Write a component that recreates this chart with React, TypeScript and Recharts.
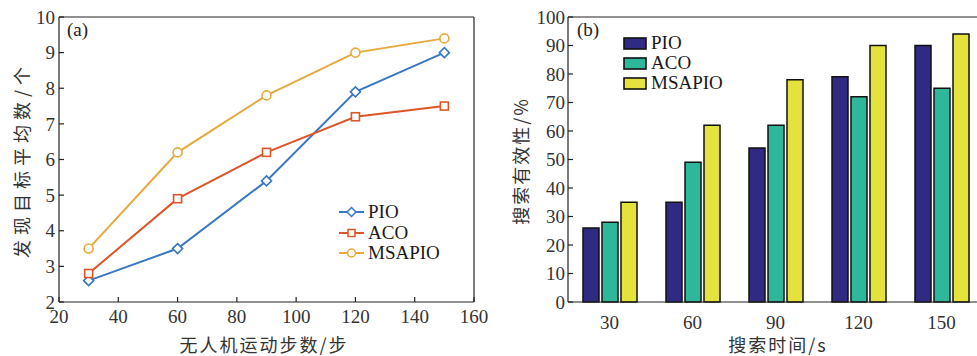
import React from 'react';
import { LineChart, Line, XAxis, YAxis, BarChart, Bar, ReferenceLine, Legend } from 'recharts';

// Panel (a)
const steps = [30, 60, 90, 120, 150];
const pioTargets = [2.6, 3.5, 5.4, 7.9, 9.0];
const acoTargets = [2.8, 4.9, 6.2, 7.2, 7.5];
const msapioTargets = [3.5, 6.2, 7.8, 9.0, 9.4];
const xTicksA = [20, 40, 60, 80, 100, 120, 140, 160];
const yTicksA = [2, 3, 4, 5, 6, 7, 8, 9, 10];

// Panel (b)
const times = ['30', '60', '90', '120', '150'];
const pioEff = [26, 35, 54, 79, 90];
const acoEff = [28, 49, 62, 72, 75];
const msapioEff = [35, 62, 78, 90, 94];
const yTicksB = [0, 10, 20, 30, 40, 50, 60, 70, 80, 90, 100];

const dataA = steps.map((s, i) => ({ step: s, PIO: pioTargets[i], ACO: acoTargets[i], MSAPIO: msapioTargets[i] }));
const dataB = times.map((t, i) => ({ time: t, PIO: pioEff[i], ACO: acoEff[i], MSAPIO: msapioEff[i] }));

const C_PIO = '#3a78c4';
const C_ACO = '#dc5628';
const C_MS = '#e6a93c';
const B_PIO = '#302a82';
const B_ACO = '#2fb79b';
const B_MS = '#e4e33e';

const AX = '#222';
const SERIF = '"Liberation Serif", "Times New Roman", serif';
const CJK = '"Noto Sans CJK SC", sans-serif';
const tickStyle = { fontFamily: SERIF, fontSize: 19, fill: '#333' };

const diamondPath = (cx: number, cy: number, r: number) => `M${cx},${cy - r}L${cx + r},${cy}L${cx},${cy + r}L${cx - r},${cy}Z`;

const DiamondDot = (p: any) => (
  <path d={diamondPath(p.cx, p.cy, 5)} fill="#fff" stroke={C_PIO} strokeWidth={1.6} />
);
const SquareDot = (p: any) => (
  <rect x={p.cx - 4} y={p.cy - 4} width={8} height={8} fill="#fff" stroke={C_ACO} strokeWidth={1.6} />
);
const CircleDot = (p: any) => (
  <circle cx={p.cx} cy={p.cy} r={4.5} fill="#fff" stroke={C_MS} strokeWidth={1.6} />
);

const lineLegendItems = [
  { name: 'PIO', color: C_PIO, shape: 'diamond' },
  { name: 'ACO', color: C_ACO, shape: 'square' },
  { name: 'MSAPIO', color: C_MS, shape: 'circle' },
];
const barLegendItems = [
  { name: 'PIO', color: B_PIO },
  { name: 'ACO', color: B_ACO },
  { name: 'MSAPIO', color: B_MS },
];

const LineLegend = () => (
  <div style={{ display: 'flex', flexDirection: 'column' }}>
    {lineLegendItems.map((it) => (
      <div key={it.name} style={{ display: 'flex', alignItems: 'center', height: 20.5 }}>
        <svg width={26} height={14} style={{ display: 'block' }}>
          <line x1={0} y1={7} x2={25} y2={7} stroke={it.color} strokeWidth={2} />
          {it.shape === 'diamond' && <path d={diamondPath(12.5, 7, 4.5)} fill="#fff" stroke={it.color} strokeWidth={1.5} />}
          {it.shape === 'square' && <rect x={9} y={3.5} width={7} height={7} fill="#fff" stroke={it.color} strokeWidth={1.5} />}
          {it.shape === 'circle' && <circle cx={12.5} cy={7} r={4} fill="#fff" stroke={it.color} strokeWidth={1.5} />}
        </svg>
        <span style={{ fontFamily: SERIF, fontSize: 19, color: '#1a1a1a', marginLeft: 3, lineHeight: '20px' }}>{it.name}</span>
      </div>
    ))}
  </div>
);

const BarLegend = () => (
  <div style={{ display: 'flex', flexDirection: 'column' }}>
    {barLegendItems.map((it) => (
      <div key={it.name} style={{ display: 'flex', alignItems: 'center', height: 20 }}>
        <svg width={24} height={13} style={{ display: 'block' }}>
          <rect x={1} y={1} width={22} height={11} fill={it.color} stroke="#111" strokeWidth={1.6} />
        </svg>
        <span style={{ fontFamily: SERIF, fontSize: 19, color: '#1a1a1a', marginLeft: 4, lineHeight: '20px' }}>{it.name}</span>
      </div>
    ))}
  </div>
);

const labelBase = { position: 'absolute' as const, whiteSpace: 'nowrap' as const, fontFamily: CJK, fontSize: 18, lineHeight: '18px', color: '#333' };

export default function App() {
  return (
    <div style={{ position: 'fixed', left: 0, top: 0, width: 977, height: 356, overflow: 'hidden', background: '#fff' }}>
      {/* Panel (a) */}
      <div style={{ position: 'absolute', left: 0, top: 0 }}>
        <LineChart width={490} height={356} data={dataA} margin={{ top: 17, right: 16, bottom: 24, left: 19 }}>
          <XAxis
            dataKey="step"
            type="number"
            domain={[20, 160]}
            ticks={xTicksA}
            interval={0}
            tickSize={-5}
            tickMargin={13}
            height={30}
            stroke={AX}
            strokeWidth={1.2}
            tick={tickStyle}
          />
          <YAxis
            type="number"
            domain={[2, 10]}
            ticks={yTicksA}
            interval={0}
            tickSize={-5}
            tickMargin={9}
            width={40}
            stroke={AX}
            strokeWidth={1.2}
            tick={tickStyle}
          />
          <ReferenceLine y={10} stroke={AX} strokeWidth={1.2} />
          <ReferenceLine x={160} stroke={AX} strokeWidth={1.2} />
          <Line dataKey="PIO" stroke={C_PIO} strokeWidth={2} dot={(p: any) => <DiamondDot key={`pd${p.index}`} {...p} />} isAnimationActive={false} />
          <Line dataKey="ACO" stroke={C_ACO} strokeWidth={2} dot={(p: any) => <SquareDot key={`ad${p.index}`} {...p} />} isAnimationActive={false} />
          <Line dataKey="MSAPIO" stroke={C_MS} strokeWidth={2} dot={(p: any) => <CircleDot key={`md${p.index}`} {...p} />} isAnimationActive={false} />
          <Legend
            layout="horizontal"
            verticalAlign="middle"
            align="center"
            content={() => <LineLegend />}
            wrapperStyle={{ left: 339, top: 202, width: 130, height: 62, bottom: 'auto', right: 'auto' }}
          />
        </LineChart>
        <div style={{ position: 'absolute', left: 67, top: 19, fontFamily: SERIF, fontSize: 19, color: '#222' }}>(a)</div>
        <div style={{ ...labelBase, left: 21, top: 160, transform: 'translate(-50%, -50%) rotate(-90deg)', letterSpacing: 5 }}>发现目标平均数/个</div>
        <div style={{ ...labelBase, left: 264, top: 344, transform: 'translate(-50%, -50%)', letterSpacing: 2 }}>无人机运动步数/步</div>
      </div>

      {/* Panel (b) */}
      <div style={{ position: 'absolute', left: 490, top: 0 }}>
        <BarChart width={500} height={356} data={dataB} margin={{ top: 17, right: 7, bottom: 24, left: 38 }} barSize={16} barGap={3}>
          <XAxis
            dataKey="time"
            tickLine={false}
            tickMargin={8}
            height={30}
            stroke={AX}
            strokeWidth={1.2}
            tick={tickStyle}
            interval={0}
          />
          <YAxis
            type="number"
            domain={[0, 100]}
            ticks={yTicksB}
            interval={0}
            tickSize={-5}
            tickMargin={8}
            width={40}
            stroke={AX}
            strokeWidth={1.2}
            tick={tickStyle}
          />
          <ReferenceLine y={100} stroke={AX} strokeWidth={1.2} />
          <Bar dataKey="PIO" fill={B_PIO} stroke="#111" strokeWidth={1.5} isAnimationActive={false} />
          <Bar dataKey="ACO" fill={B_ACO} stroke="#111" strokeWidth={1.5} isAnimationActive={false} />
          <Bar dataKey="MSAPIO" fill={B_MS} stroke="#111" strokeWidth={1.5} isAnimationActive={false} />
          <Legend
            layout="horizontal"
            verticalAlign="middle"
            align="center"
            content={() => <BarLegend />}
            wrapperStyle={{ left: 133, top: 33, width: 130, height: 62, bottom: 'auto', right: 'auto' }}
          />
        </BarChart>
        <div style={{ position: 'absolute', left: 87, top: 19, fontFamily: SERIF, fontSize: 19, color: '#222' }}>(b)</div>
        <div style={{ ...labelBase, left: 30, top: 161, transform: 'translate(-50%, -50%) rotate(-90deg)', letterSpacing: 2 }}>搜索有效性/%</div>
        <div style={{ ...labelBase, left: 288, top: 344, transform: 'translate(-50%, -50%)', letterSpacing: 2 }}>搜索时间/s</div>
      </div>
    </div>
  );
}
